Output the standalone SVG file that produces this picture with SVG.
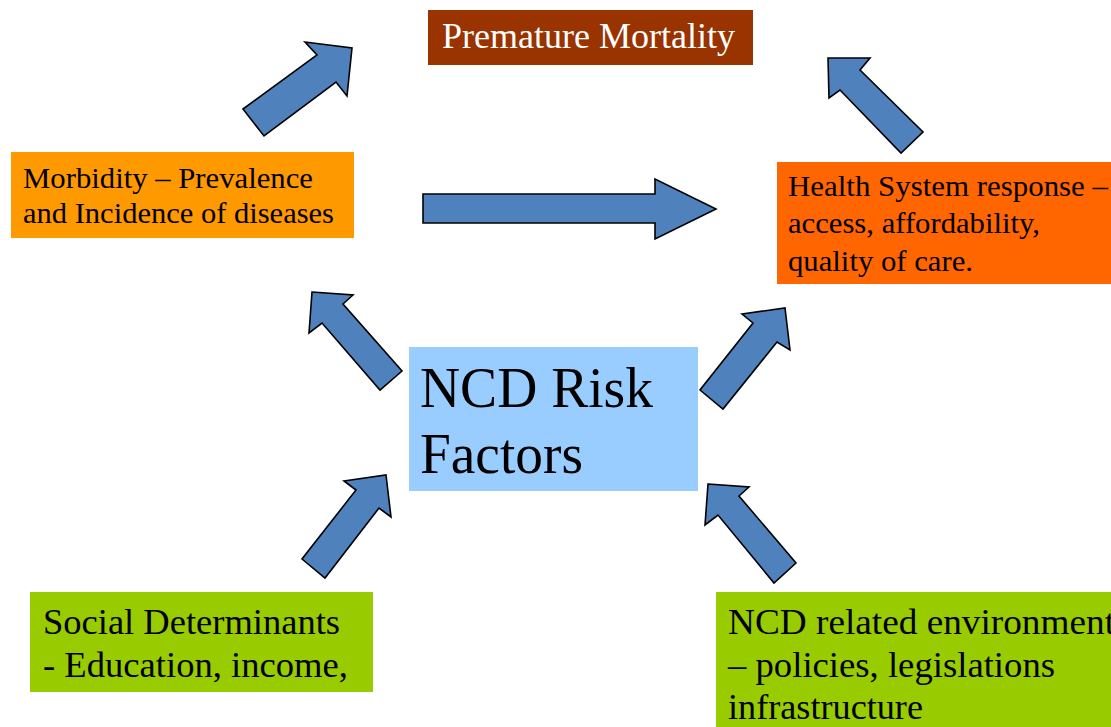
<svg xmlns="http://www.w3.org/2000/svg" width="1111" height="727" viewBox="0 0 1111 727">
<style>
.t{font-family:"Liberation Serif","Times New Roman",serif;fill:#000}
.w{fill:#fff}
.arr{fill:#4F81BD;stroke:#000;stroke-width:1.6;stroke-linejoin:miter}
</style>
<rect width="1111" height="727" fill="#fff"/>
<g id="premature">
<rect x="428" y="10" width="325" height="55" fill="#993300"/>
<text class="t w" x="442" y="48" font-size="35.5" textLength="293" lengthAdjust="spacingAndGlyphs">Premature Mortality</text>
</g>
<g id="morbidity">
<rect x="11" y="152" width="343" height="86" fill="#FF9900"/>
<text class="t" font-size="29" x="23" y="188" textLength="290" lengthAdjust="spacingAndGlyphs">Morbidity – Prevalence</text>
<text class="t" font-size="29" x="23" y="223" textLength="311" lengthAdjust="spacingAndGlyphs">and Incidence of diseases</text>
</g>
<g id="health">
<rect x="777" y="162" width="334" height="122" fill="#FF6600"/>
<text class="t" font-size="29.5" x="788" y="196" textLength="320" lengthAdjust="spacingAndGlyphs">Health System response –</text>
<text class="t" font-size="29.5" x="788" y="233" textLength="252" lengthAdjust="spacingAndGlyphs">access, affordability,</text>
<text class="t" font-size="29.5" x="788" y="271" textLength="185" lengthAdjust="spacingAndGlyphs">quality of care.</text>
</g>
<g id="ncd">
<rect x="409" y="347" width="289" height="144" fill="#99CCFF"/>
<text class="t" font-size="56" x="420" y="407" textLength="233" lengthAdjust="spacingAndGlyphs">NCD Risk</text>
<text class="t" font-size="56" x="420" y="473" textLength="163" lengthAdjust="spacingAndGlyphs">Factors</text>
</g>
<g id="social">
<rect x="30" y="592" width="343" height="100" fill="#99CC00"/>
<text class="t" font-size="35" x="43" y="634" textLength="297" lengthAdjust="spacingAndGlyphs">Social Determinants</text>
<text class="t" font-size="35" x="43" y="677" textLength="305" lengthAdjust="spacingAndGlyphs">- Education, income,</text>
</g>
<g id="environment">
<rect x="716" y="592" width="395" height="135" fill="#99CC00"/>
<text class="t" font-size="35" x="728" y="634" textLength="387" lengthAdjust="spacingAndGlyphs">NCD related environment</text>
<text class="t" font-size="35" x="728" y="677" textLength="327" lengthAdjust="spacingAndGlyphs">– policies, legislations</text>
<text class="t" font-size="35" x="728" y="719" textLength="195" lengthAdjust="spacingAndGlyphs">infrastructure</text>
</g>
<g id="connectors">
<polygon class="arr" points="243,109 264,136 336,82 347,96 352,48 305,42 317,55"/>
<polygon class="arr" points="423,194 655,194 655,179 716,209 655,239 655,223 423,223"/>
<polygon class="arr" points="828,58 870,58 860,70 923,132 901,153 840,90 829,98"/>
<polygon class="arr" points="312,292 353,295 343,304 402,371 380,390 322,323 309,333"/>
<polygon class="arr" points="785,308 790,350 777,342 723,409 700,390 753,323 742,314"/>
<polygon class="arr" points="386,475 391,517 379,508 325,578 302,559 356,490 344,481"/>
<polygon class="arr" points="708,484 749,487 739,496 796,563 774,583 718,515 705,525"/>
</g>
</svg>
